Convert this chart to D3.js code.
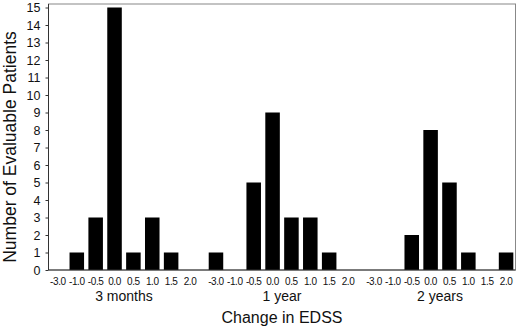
<!DOCTYPE html>
<html><head><meta charset="utf-8">
<script src="https://cdn.jsdelivr.net/npm/d3@7"></script>
<style>body{margin:0;background:#fff}svg{display:block}text{font-family:"Liberation Sans",Arial,sans-serif;fill:#111}</style>
</head><body>
<svg id="c" width="520" height="329"></svg>
<script>
const groups = ["3 months", "1 year", "2 years"];
const categories = ["-3.0", "-1.0", "-0.5", "0.0", "0.5", "1.0", "1.5", "2.0"];
const months3 = [0, 1, 3, 15, 1, 3, 1, 0];
const year1 = [1, 0, 5, 9, 3, 3, 1, 0];
const years2 = [0, 0, 2, 8, 5, 1, 0, 1];
const yTicks = d3.range(0, 16);

const seriesValues = [months3, year1, years2];
const svg = d3.select("#c");
const mLeft = 48.5, mRight = 515.5, mTop = 4, mBottom = 270;

const gx = d3.scaleBand().domain(groups).range([mLeft, mRight]).paddingInner(0.045).paddingOuter(0);
const ix = d3.scaleBand().domain(categories).range([0, gx.bandwidth()]).paddingInner(0.23).paddingOuter(0.115);
const y = d3.scaleLinear().domain([0, 15.2]).range([mBottom, mTop]);

// frame
svg.append("rect").attr("x", mLeft).attr("y", mTop).attr("width", mRight - mLeft).attr("height", mBottom - mTop)
  .attr("fill", "none").attr("stroke", "#888").attr("stroke-width", 1);

// bars
groups.forEach((g, gi) => {
  const gg = svg.append("g").attr("transform", `translate(${gx(g)},0)`);
  gg.selectAll("rect").data(categories.map((c, i) => ({c, v: seriesValues[gi][i]})).filter(d => d.v > 0))
    .join("rect")
    .attr("x", d => ix(d.c)).attr("width", ix.bandwidth())
    .attr("y", d => y(d.v)).attr("height", d => y(0) - y(d.v))
    .attr("fill", "#000");
  gg.selectAll("text.tl").data(categories).join("text").attr("class", "tl")
    .attr("x", d => ix(d) + ix.bandwidth() / 2).attr("y", 285)
    .attr("text-anchor", "middle").attr("font-size", 10).attr("letter-spacing", "-0.4")
    .text(d => d);
  gg.append("text").attr("x", gx.bandwidth() / 2).attr("y", 301).attr("text-anchor", "middle")
    .attr("font-size", 14).text(g);
});

// axis lines
svg.append("line").attr("x1", mLeft).attr("x2", mLeft).attr("y1", mTop).attr("y2", mBottom).attr("stroke", "#333");
svg.append("line").attr("x1", mLeft).attr("x2", mRight).attr("y1", mBottom).attr("y2", mBottom).attr("stroke", "#333");

const ya = svg.append("g").attr("transform", `translate(${mLeft},0)`)
  .call(d3.axisLeft(y).tickValues(yTicks).tickSize(3).tickPadding(5).tickFormat(d3.format("d")));
ya.select(".domain").remove();
ya.selectAll("line").attr("stroke", "#333");
ya.selectAll("text").attr("font-size", 12.5).attr("fill", "#111").attr("font-family", "Liberation Sans, Arial, sans-serif");

svg.append("text").attr("x", (mLeft + mRight) / 2).attr("y", 323).attr("text-anchor", "middle")
  .attr("font-size", 16).text("Change in EDSS");
svg.append("text").attr("transform", `translate(16,147) rotate(-90)`)
  .attr("text-anchor", "middle").attr("font-size", 17.5).text("Number of Evaluable Patients");
</script>
</body></html>
